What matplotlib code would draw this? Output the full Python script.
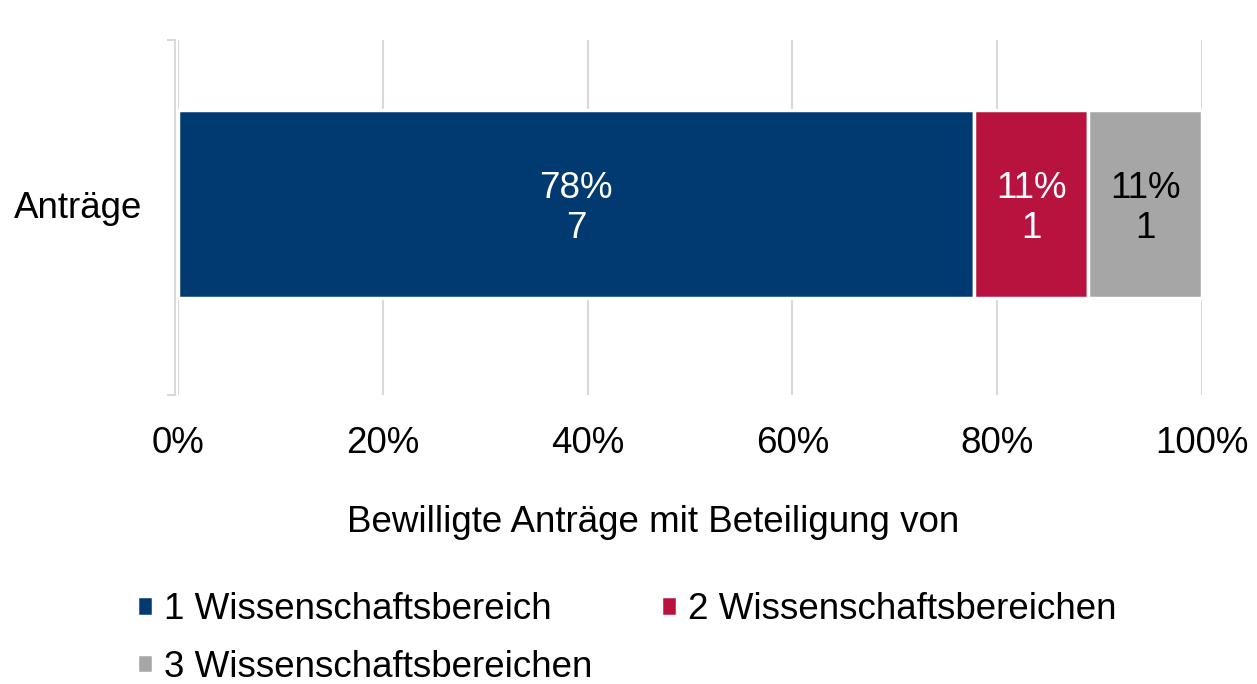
import matplotlib.pyplot as plt
import numpy as np

plt.rcParams['font.family'] = ['Liberation Sans', 'DejaVu Sans']

# data
category = ["Anträge"]
series = ["1 Wissenschaftsbereich", "2 Wissenschaftsbereichen", "3 Wissenschaftsbereichen"]
counts = [7, 1, 1]
colors = ["#003a70", "#b8123e", "#a6a6a6"]
text_colors = ["white", "white", "black"]
xticks = [0, 20, 40, 60, 80, 100]

total = sum(counts)
shares = [c / total * 100 for c in counts]
fs = 26.5

fig = plt.figure(figsize=(12.57, 6.84), dpi=100)
ax = fig.add_axes([178 / 1257, 1 - 395 / 684, (1202 - 178) / 1257, 355 / 684])

handles = []
left = 0
for s, n, name, col, tc in zip(shares, counts, series, colors, text_colors):
    b = ax.barh(0, s, left=left, height=0.53, color=col, edgecolor="white",
                linewidth=2.5, label=name, zorder=2)
    handles.append(b)
    ax.text(left + s / 2, -0.012, f"{s:.0f}%\n{n}", ha="center", va="center",
            color=tc, fontsize=fs, linespacing=1.2, zorder=3)
    left += s

ax.set_xlim(0, 100)
ax.set_ylim(-0.538, 0.462)
ax.set_yticks([-0.538, 0.462], minor=True)
ax.set_yticks([0])
ax.set_yticklabels(category)
ax.set_xticks(xticks)
ax.set_xticklabels([f"{t}%" for t in xticks])
ax.tick_params(axis="x", length=0, pad=22, labelsize=fs)
ax.tick_params(axis="y", which="major", length=0, pad=24, labelsize=fs)
ax.tick_params(axis="y", which="minor", length=6, color="#d9d9d9", width=1.5)
ax.grid(axis="x", color="#d9d9d9", linewidth=1.5, zorder=0)
ax.set_axisbelow(True)
for side in ["top", "right", "bottom"]:
    ax.spines[side].set_visible(False)
ax.spines["left"].set_color("#d9d9d9")
ax.spines["left"].set_linewidth(1.5)
ax.spines["left"].set_position(("outward", 2))

ax.set_xlabel("Bewilligte Anträge mit Beteiligung von", fontsize=fs)
ax.xaxis.set_label_coords((653 - 178) / 1024, -0.31)

# row-major order like the original legend
order = [0, 2, 1]
fig.legend([handles[i] for i in order], [series[i] for i in order],
           loc="upper left", bbox_to_anchor=(122 / 1257, 1 - 577 / 684), ncol=2,
           frameon=False, fontsize=fs, handlelength=0.45, handleheight=0.45,
           handletextpad=0.3, columnspacing=1.85, labelspacing=0.62, borderaxespad=0)

fig.savefig("out.png", dpi=100)
